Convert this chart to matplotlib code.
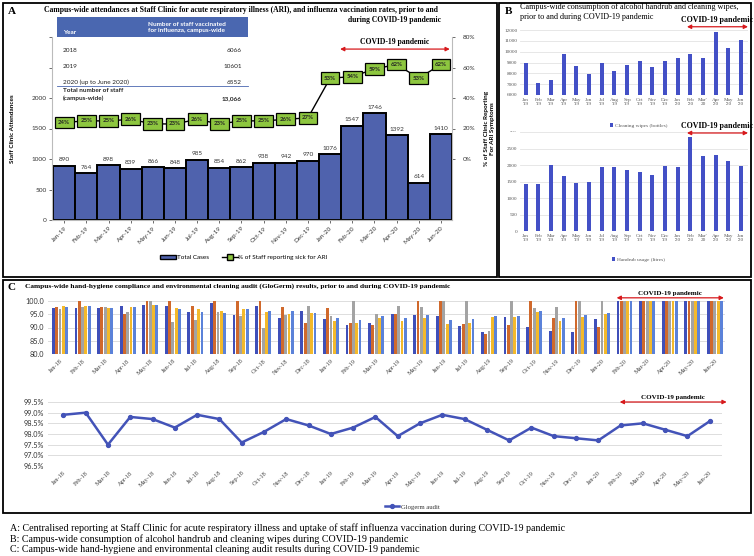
import matplotlib.pyplot as plt
import numpy as np
from matplotlib.patches import Rectangle, Patch
from matplotlib.lines import Line2D

W, H = 754, 556

# ---- Panel A data
months_a = ['Jan-19', 'Feb-19', 'Mar-19', 'Apr-19', 'May-19', 'Jun-19', 'Jul-19', 'Aug-19', 'Sep-19',
            'Oct-19', 'Nov-19', 'Dec-19', 'Jan-20', 'Feb-20', 'Mar-20', 'Apr-20', 'May-20', 'Jun-20']
total_cases = [890, 764, 898, 839, 866, 848, 985, 854, 862, 938, 942, 970, 1076, 1547, 1746, 1392, 614, 1410]
pct_sick = [24, 25, 25, 26, 23, 23, 26, 23, 25, 25, 26, 27, 53, 54, 59, 62, 53, 62]

vacc_years = ['2018', '2019', '2020 (up to June 2020)']
vacc_counts = ['6066', '10601', '6552']
total_staff = '13,066'

# ---- Panel B data
months_b = ["Jan\n'19", "Feb\n'19", "Mar\n'19", "Apr\n'19", "May\n'19", "Jun\n'19", "Jul\n'19", "Aug\n'19",
            "Sep\n'19", "Oct\n'19", "Nov\n'19", "Dec\n'19", "Jan\n'20", "Feb\n'20", "Mar'\n20", "Apr\n'20",
            "May\n'20", "Jun\n'20"]
wipes = [8950, 7100, 7350, 9800, 8650, 7900, 8950, 8200, 8750, 9150, 8600, 9100, 9400, 9800, 9450, 11800, 10350, 11100]
handrub = [1430, 1410, 2000, 1680, 1450, 1500, 1935, 1945, 1835, 1775, 1685, 1955, 1945, 2850, 2280, 2300, 2125, 1955]

# ---- Panel C data
months_c = ['Jan-18', 'Feb-18', 'Mar-18', 'Apr-18', 'May-18', 'Jun-18', 'Jul-18', 'Aug-18', 'Sep-18', 'Oct-18',
            'Nov-18', 'Dec-18', 'Jan-19', 'Feb-19', 'Mar-19', 'Apr-19', 'May-19', 'Jun-19', 'Jul-19', 'Aug-19',
            'Sep-19', 'Oct-19', 'Nov-19', 'Dec-19', 'Jan-20', 'Feb-20', 'Mar-20', 'Apr-20', 'May-20', 'Jun-20']
audit_1 = [97.5, 97.4, 97.4, 98.2, 98.5, 98.0, 95.8, 99.2, 94.6, 98.0, 93.7, 96.2, 93.2, 90.8, 91.8,
           95.0, 94.7, 94.4, 90.7, 88.3, 93.8, 90.1, 88.6, 88.2, 93.1, 100, 100, 100, 100, 100]
audit_2 = [97.6, 100, 97.6, 95.0, 100, 100, 98.0, 100, 100, 100, 97.7, 91.8, 97.4, 91.8, 91.0,
           95.0, 100, 100, 91.4, 87.4, 90.8, 100, 93.6, 100, 90.1, 100, 100, 100, 100, 100]
audit_3 = [97.0, 97.6, 97.6, 95.8, 100, 92.2, 93.0, 95.8, 94.4, 89.7, 94.7, 98.3, 94.2, 100, 95.0,
           98.1, 97.6, 100, 100, 88.8, 100, 97.4, 97.6, 100, 100, 100, 100, 100, 100, 100]
audit_4 = [98.2, 98.1, 97.3, 97.6, 98.4, 97.2, 96.9, 96.2, 96.9, 95.8, 95.2, 95.6, 92.5, 91.7, 93.6,
           92.6, 93.6, 91.5, 91.7, 94.0, 93.8, 95.7, 92.6, 93.8, 95.0, 100, 100, 100, 100, 100]
audit_5 = [97.6, 98.1, 97.3, 97.6, 98.4, 97.0, 95.8, 95.6, 96.9, 96.2, 96.2, 95.3, 93.5, 92.8, 94.2,
           93.5, 94.6, 92.8, 93.2, 94.2, 94.5, 96.4, 93.5, 94.6, 95.5, 100, 100, 100, 100, 100]
glogerm = [98.9, 99.0, 97.5, 98.8, 98.7, 98.3, 98.9, 98.7, 97.6, 98.1, 98.7, 98.4, 98.0, 98.3, 98.8,
           97.9, 98.5, 98.9, 98.7, 98.2, 97.7, 98.3, 97.9, 97.8, 97.7, 98.4, 98.5, 98.2, 97.9, 98.6]

SERIF = 'Liberation Serif'
SANS = 'Lato'
RED = '#d7191c'


def box(x0, y0, x1, y1):
    # pixel box (top-left origin) -> figure fraction rect
    return [x0 / W, 1 - y1 / H, (x1 - x0) / W, (y1 - y0) / H]


def ftext(x, y, s, **kw):
    fig.text(x / W, 1 - y / H, s, **kw)


def covid_arrow(ax, x0, x1, y_arrow, y_text, size=5.5):
    ax.annotate('', xy=(x0, y_arrow), xytext=(x1, y_arrow), xycoords=('data', 'axes fraction'),
                arrowprops=dict(arrowstyle='<|-|>', color=RED, lw=0.9, mutation_scale=6,
                                shrinkA=0, shrinkB=0), annotation_clip=False)
    ax.text((x0 + x1) / 2, y_text, 'COVID-19 pandemic', transform=ax.get_xaxis_transform(),
            ha='center', va='bottom', fontsize=size, family=SERIF, fontweight='bold', clip_on=False)


fig = plt.figure(figsize=(W / 100, H / 100), dpi=100)

# panel frames
for x0, y0, x1, y1 in [(3, 3, 497, 277), (499, 3, 751, 277), (3, 280, 751, 513)]:
    fig.patches.append(Rectangle((x0 / W, 1 - y1 / H), (x1 - x0) / W, (y1 - y0) / H,
                                 transform=fig.transFigure, fill=False, ec='black', lw=1.3))

# ================= Panel A =================
ftext(8, 11, 'A', fontsize=8, family=SERIF, fontweight='bold', va='center')
ftext(241, 10, 'Campus-wide attendances at Staff Clinic for acute respiratory illness (ARI), and influenza '
      'vaccination rates, prior to and', fontsize=5.5, family=SERIF, fontweight='bold', ha='center', va='center')
ftext(395, 20, 'during COVID-19 pandemic', fontsize=5.5, family=SERIF, fontweight='bold',
      ha='center', va='center')

axA = fig.add_axes(box(52, 37, 452, 220))
xa = np.arange(len(months_a))
axA.bar(xa, total_cases, width=1.0, color='#4f62ad', edgecolor='black', lw=1.4, zorder=2)
for i, v in enumerate(total_cases):
    axA.annotate(str(v), (i, v), xytext=(0, 2.5), textcoords='offset points', ha='center',
                 va='bottom', fontsize=4.6, family=SANS, color='#333333')
axA.set_xlim(-0.55, len(months_a) - 0.5)
axA.set_ylim(0, 3000)
axA.set_yticks(range(0, 3001, 500))
axA.set_yticklabels([str(t) if t <= 2000 else '' for t in range(0, 3001, 500)])
axA.set_xticks(xa)
axA.set_xticklabels(months_a, rotation=45, ha='right', rotation_mode='anchor')
axA.tick_params(labelsize=4.6, length=2, width=0.5, colors='#333333', pad=2)
for lab in axA.get_xticklabels() + axA.get_yticklabels():
    lab.set_family(SANS)
for s in ['top', 'right']:
    axA.spines[s].set_visible(False)
axA.spines['left'].set_color('#bbbbbb')
axA.spines['bottom'].set_color('#bbbbbb')
axA.set_ylabel('Staff Clinic Attendances', fontsize=4.6, family=SANS, fontweight='bold', labelpad=12)

axA2 = axA.twinx()
axA2.plot(xa, pct_sick, color='black', lw=1.0, zorder=3)
for i, p in enumerate(pct_sick):
    axA2.text(i, p, f'{p}%', ha='center', va='center', fontsize=4.4, family=SANS, fontweight='bold',
              color='#222222', zorder=4,
              bbox=dict(boxstyle='square,pad=0.55', fc='#8dc63f', ec='black', lw=0.9))
axA2.set_ylim(-40, 80)
axA2.set_yticks([0, 20, 40, 60, 80])
axA2.set_yticklabels(['0%', '20%', '40%', '60%', '80%'])
axA2.tick_params(labelsize=4.6, length=2, width=0.5, colors='#333333', pad=6)
for lab in axA2.get_yticklabels():
    lab.set_family(SANS)
for s in ['top', 'left', 'bottom']:
    axA2.spines[s].set_visible(False)
axA2.spines['right'].set_color('#bbbbbb')
axA2.spines['right'].set_bounds(-40, 80)
axA2.set_ylabel('% of Staff Clinic Reporting\nFor ARI Symptoms', fontsize=4.6, family=SANS,
                fontweight='bold', labelpad=6)
covid_arrow(axA, 12.45, 17.4, 0.934, 0.95)

handles = [Patch(fc='#4f62ad', ec='black', lw=1.0),
           Line2D([], [], color='black', lw=1.0, marker='s', mfc='#8dc63f', mec='black', ms=4)]
axA.legend(handles, ['Total Cases', '% of Staff reporting sick for ARI'], loc='center', ncol=2,
           bbox_to_anchor=(0.48, -0.205), frameon=False, prop={'family': SANS, 'size': 4.6},
           handlelength=2.5, handletextpad=0.1, columnspacing=2)

# vaccination table
fig.patches.append(Rectangle((57 / W, 1 - 103 / H), 191 / W, 86 / H, transform=fig.transFigure,
                             fc='white', ec='none', zorder=5))
fig.patches.append(Rectangle((57 / W, 1 - 37 / H), 191 / W, 20 / H, transform=fig.transFigure,
                             fc='#4a67b0', ec='none', zorder=6))
tkw = dict(fontsize=4.6, family=SANS, zorder=7, color='#222222')
ftext(63, 33, 'Year', va='center', fontweight='bold', **{**tkw, 'color': 'white'})
ftext(148, 27.5, 'Number of staff vaccinated\nfor influenza, campus-wide', va='center',
      fontweight='bold', linespacing=1.4, **{**tkw, 'color': 'white'})
for k, (yr, n) in enumerate(zip(vacc_years, vacc_counts)):
    ftext(63, 50 + k * 16, yr, va='center', **tkw)
    ftext(242, 50 + k * 16, n, va='center', ha='right', **tkw)
fig.add_artist(Line2D([57 / W, 248 / W], [1 - 86 / H, 1 - 86 / H], color='#4a67b0', lw=0.6, zorder=7))
ftext(63, 94.5, 'Total number of staff\n(campus-wide)', va='center', fontweight='bold',
      linespacing=1.5, **tkw)
ftext(242, 99, total_staff, va='center', ha='right', fontweight='bold', **tkw)

# ================= Panel B =================
ftext(505, 11, 'B', fontsize=8, family=SERIF, fontweight='bold', va='center')
ftext(520, 7, 'Campus-wide consumption of alcohol handrub and cleaning wipes,',
      fontsize=5.9, family=SERIF, va='center')
ftext(520, 17, 'prior to and during COVID-19 pandemic', fontsize=5.9, family=SERIF, va='center')

xb = np.arange(len(months_b))
bar_b = '#4350c6'
panels_b = [((520, 30, 748, 95), wipes, (6000, 12000), 1000, 'Cleaning wipes (bottles)', -0.47, 1.05, 1.09),
            ((520, 132, 748, 231), handrub, (0, 3000), 500, 'Handrub usage (litres)', -0.29, 0.99, 1.02)]
for rect, vals, ylim, step, label, leg_y, arr_y, txt_y in panels_b:
    ax = fig.add_axes(box(*rect))
    ax.bar(xb, vals, width=0.33, color=bar_b, zorder=2, label=label)
    ax.set_xlim(-0.45, len(months_b) - 0.45)
    ax.set_ylim(*ylim)
    ticks = list(range(ylim[0], ylim[1] + 1, step))
    ax.set_yticks(ticks)
    ax.set_yticklabels([str(t) if t != 3000 else '----' for t in ticks])
    ax.set_xticks(xb)
    ax.set_xticklabels(months_b, linespacing=1.1)
    ax.tick_params(labelsize=3.7, length=0, colors='#555555', pad=2)
    for lab in ax.get_xticklabels() + ax.get_yticklabels():
        lab.set_family(SERIF)
    ax.grid(axis='y', color='#e3e3e3', lw=0.6, zorder=0)
    for s in ax.spines.values():
        s.set_visible(False)
    ax.legend(loc='center', bbox_to_anchor=(0.52, leg_y), frameon=False, handlelength=0.6,
              handleheight=0.6, handletextpad=0.3, prop={'family': SERIF, 'size': 3.9},
              labelcolor='#555555')
    covid_arrow(ax, 12.73, 17.55, arr_y, txt_y, size=5.7)

# ================= Panel C =================
ftext(8, 288, 'C', fontsize=8, family=SERIF, fontweight='bold', va='center')
ftext(25, 286, 'Campus-wide hand-hygiene compliance and environmental cleaning audit (GloGerm) results, '
      'prior to and during COVID-19 pandemic', fontsize=5.3, family=SERIF, fontweight='bold', va='center')

xc = np.arange(len(months_c))
axC = fig.add_axes(box(48, 301, 725, 354))
colors_c = ['#3f4fb9', '#d0692c', '#a3a3a3', '#f3b92b', '#5b82d9']
for j, series in enumerate([audit_1, audit_2, audit_3, audit_4, audit_5]):
    axC.bar(xc + (j - 2) * 0.145, np.array(series) - 80, bottom=80, width=0.125,
            color=colors_c[j], zorder=2)
axC.set_xlim(-0.53, len(months_c) - 0.55)
axC.set_ylim(80, 100)
axC.set_yticks(np.arange(80, 100.1, 5))
axC.set_yticklabels([f'{t:.1f}' for t in np.arange(80, 100.1, 5)])
axC.set_xticks(xc)
axC.set_xticklabels(months_c, rotation=45, ha='right', rotation_mode='anchor')
axC.grid(axis='y', color='#dddddd', lw=0.7, zorder=0)
axC.tick_params(length=0, pad=3)
for lab in axC.get_yticklabels():
    lab.set_family(SANS)
    lab.set_fontsize(5.2)
    lab.set_color('#333333')
for lab in axC.get_xticklabels():
    lab.set_family(SERIF)
    lab.set_fontsize(4.6)
    lab.set_color('#444444')
for s in axC.spines.values():
    s.set_visible(False)
covid_arrow(axC, 24.65, 29.4, 1.06, 1.09, size=5)

axC2 = fig.add_axes(box(48, 402, 722, 466))
axC2.plot(xc, glogerm, color='#4353b8', lw=1.8, marker='o', ms=2.8, label='Glogerm audit', zorder=3)
axC2.set_xlim(-0.69, len(months_c) - 0.45)
axC2.set_ylim(96.5, 99.5)
yt = np.arange(96.5, 99.51, 0.5)
axC2.set_yticks(yt)
axC2.set_yticklabels([f'{t:.1f}%' for t in yt])
axC2.set_xticks(xc)
axC2.set_xticklabels(months_c, rotation=45, ha='right', rotation_mode='anchor')
axC2.grid(axis='y', color='#dddddd', lw=0.7, zorder=0)
axC2.tick_params(length=0, pad=3)
for lab in axC2.get_yticklabels():
    lab.set_family(SANS)
    lab.set_fontsize(5.2)
    lab.set_color('#333333')
for lab in axC2.get_xticklabels():
    lab.set_family(SERIF)
    lab.set_fontsize(4.6)
    lab.set_color('#444444')
for s in axC2.spines.values():
    s.set_visible(False)
covid_arrow(axC2, 24.96, 29.76, 1.0, 1.025, size=5)
axC2.legend(loc='center', bbox_to_anchor=(0.54, -0.64), frameon=False, handlelength=2.2,
            handletextpad=0.2, prop={'family': SERIF, 'size': 4.8}, labelcolor='#333333')

# ================= captions =================
captions = ['A: Centralised reporting at Staff Clinic for acute respiratory illness and uptake of staff '
            'influenza vaccination during COVID-19 pandemic',
            'B: Campus-wide consumption of alcohol handrub and cleaning wipes during COVID-19 pandemic',
            'C: Campus-wide hand-hygiene and environmental cleaning audit results during COVID-19 pandemic']
for k, c in enumerate(captions):
    ftext(10, 528 + k * 10.8, c, fontsize=7.2, family=SERIF, va='center')

fig.savefig('out.png', dpi=100)
